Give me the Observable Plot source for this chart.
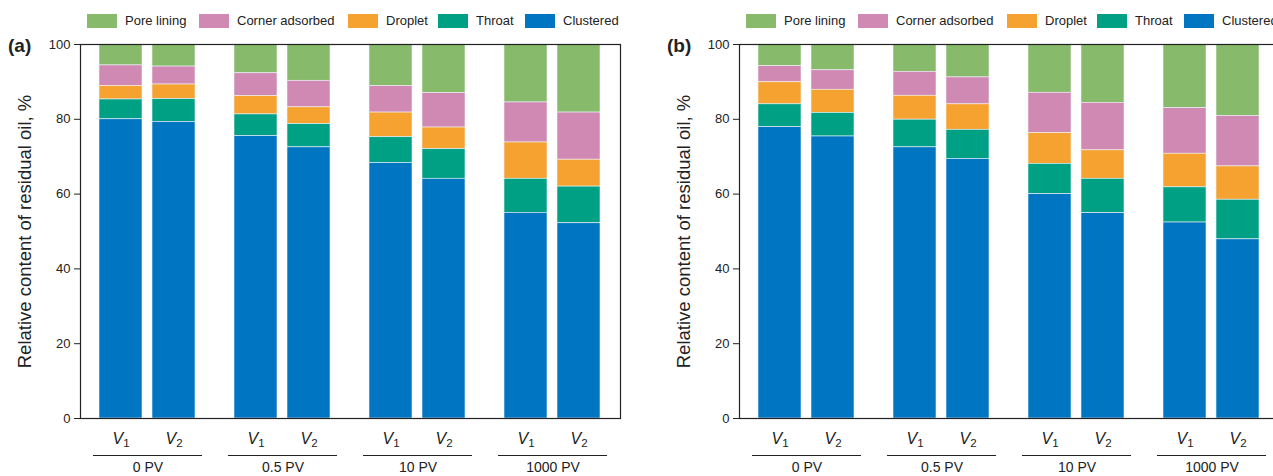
<!DOCTYPE html>
<html><head><meta charset="utf-8">
<script src="https://cdn.jsdelivr.net/npm/d3@7"></script>
<script src="https://cdn.jsdelivr.net/npm/@observablehq/plot@0.6"></script>
<style>
html,body{margin:0;padding:0;background:#fff;overflow:hidden;}
body{width:1273px;height:476px;font-family:"Liberation Sans",Arial,sans-serif;}
#wrap{display:flex;width:1318px;}
.panel{position:relative;width:659px;height:476px;flex:none;}
.legend{position:relative;height:36px;}
.item{position:absolute;top:13px;height:15px;display:flex;align-items:center;font-size:13px;color:#222;white-space:nowrap;}
.sw{width:30px;height:14px;margin-right:8px;flex:none;}
.tag{position:absolute;left:8px;top:35px;line-height:22px;font-weight:bold;font-size:19px;color:#222;}
svg{display:block;}
</style></head><body><div id="wrap"></div>
<script>
const groups = ["0 PV","0.5 PV","10 PV","1000 PV"];
const velocities = ["V1","V2"];
const seriesNames = ["Pore lining","Corner adsorbed","Droplet","Throat","Clustered"];
const seriesColors = ["#88BA6B","#CF89B3","#F5A231","#00A084","#0075C2"];
const legendLeft = [87,199,348,438,525];
const panelTags = ["(a)","(b)"];
const yTicks = [0,20,40,60,80,100];
const yLabel = "Relative content of residual oil, %";

// values per bar in order: 0 PV V1, 0 PV V2, 0.5 PV V1, 0.5 PV V2, 10 PV V1, 10 PV V2, 1000 PV V1, 1000 PV V2
// panel (a)
const aClustered = [80.0,79.3,75.5,72.5,68.3,64.1,55.0,52.2];
const aThroat    = [5.3,6.1,5.8,6.2,6.9,7.9,9.1,9.8];
const aDroplet   = [3.6,3.9,4.9,4.5,6.6,5.8,9.7,7.2];
const aCorner    = [5.5,4.8,6.1,7.1,7.1,9.2,10.7,12.6];
const aPore      = [5.6,5.9,7.7,9.7,11.1,13.0,15.5,18.2];
// panel (b)
const bClustered = [77.9,75.4,72.5,69.4,60.0,54.9,52.4,47.9];
const bThroat    = [6.1,6.3,7.4,7.8,8.1,9.2,9.4,10.6];
const bDroplet   = [5.9,6.2,6.4,6.8,8.2,7.6,9.0,8.9];
const bCorner    = [4.3,5.2,6.4,7.2,10.8,12.7,12.2,13.5];
const bPore      = [5.8,6.9,7.3,8.8,12.9,15.6,17.0,19.1];

const panels = [
  {"Pore lining":aPore,"Corner adsorbed":aCorner,"Droplet":aDroplet,"Throat":aThroat,"Clustered":aClustered},
  {"Pore lining":bPore,"Corner adsorbed":bCorner,"Droplet":bDroplet,"Throat":bThroat,"Clustered":bClustered}
];

const wrap = document.getElementById("wrap");

panels.forEach((cols, pi) => {
  const panel = document.createElement("div");
  panel.className = "panel";
  const legend = document.createElement("div");
  legend.className = "legend";
  seriesNames.forEach((s, si) => {
    const it = document.createElement("div");
    it.className = "item";
    it.style.left = legendLeft[si] + "px";
    const sw = document.createElement("span");
    sw.className = "sw";
    sw.style.background = seriesColors[si];
    const tx = document.createElement("span");
    tx.textContent = s;
    it.appendChild(sw); it.appendChild(tx);
    legend.appendChild(it);
  });
  panel.appendChild(legend);

  const rows = [];
  groups.forEach((g, gi) => velocities.forEach((v, vi) => {
    const i = gi * 2 + vi;
    seriesNames.forEach(s => rows.push({group: g, vel: v, series: s, value: cols[s][i]}));
  }));

  const plot = Plot.plot({
    width: 659, height: 440,
    marginTop: 8, marginBottom: 58, marginLeft: 80, marginRight: 39,
    style: {fontFamily: "'Liberation Sans', Arial, sans-serif", color: "#222", background: "white", overflow: "visible"},
    fx: {domain: groups, padding: 0},
    x: {domain: velocities, paddingInner: 0.185, paddingOuter: 0.3426},
    y: {domain: [0, 100]},
    color: {domain: seriesNames, range: seriesColors},
    marks: [
      Plot.barY(rows, {fx: "group", x: "vel", y: "value", fill: "series",
        order: seriesNames.slice().reverse(), stroke: "#eef3f8", strokeWidth: 0.6}),
      Plot.frame({facet: "super", stroke: "#222", strokeWidth: 1.2}),
      Plot.ruleY([0], {dy: 37, insetLeft: 13, insetRight: 13, stroke: "#222", strokeWidth: 1.2}),
      Plot.axisY({ticks: yTicks, tickSize: 6, tickPadding: 4, fontSize: 13,
        label: yLabel, labelAnchor: "center", labelOffset: 63, labelArrow: "none"}),
      Plot.axisX({tickSize: 0, tickPadding: 14, fontSize: 16, label: null}),
      Plot.axisFx({anchor: "bottom", tickSize: 0, tickPadding: 44, fontSize: 14, label: null})
    ]
  });

  d3.select(plot).selectAll('g[aria-label="x-axis tick label"] text').each(function() {
    const t = this.textContent;
    const sel = d3.select(this);
    sel.text("");
    sel.append("tspan").attr("font-style", "italic").text(t[0]);
    sel.append("tspan").attr("font-size", 11.5).attr("dy", "0.3em").text(t.slice(1));
  });
  d3.select(plot).selectAll('g[aria-label="y-axis label"]').attr("font-size", 18.5);
  d3.select(plot).selectAll('g[aria-label="y-axis label"] text').attr("font-size", 18.5);

  panel.appendChild(plot);
  const tag = document.createElement("div");
  tag.className = "tag";
  tag.textContent = panelTags[pi];
  panel.appendChild(tag);
  wrap.appendChild(panel);
});
</script></body></html>
